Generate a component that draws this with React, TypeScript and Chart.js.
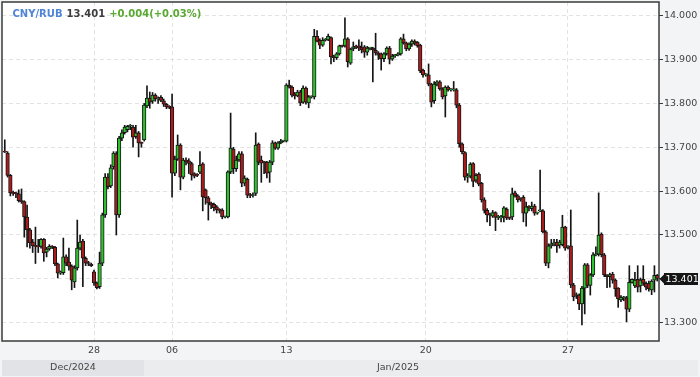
import { useEffect, useRef } from 'react';
import { Chart, registerables } from 'chart.js';

Chart.register(...registerables);

// ---- data (hourly candles, CNY/RUB) ----
const opens = [
  13.690, 13.687, 13.636, 13.597, 13.595, 13.594, 13.578, 13.576, 13.541, 13.512,
  13.484, 13.475, 13.474, 13.474, 13.490, 13.461, 13.468, 13.474, 13.472, 13.434,
  13.413, 13.414, 13.450, 13.438, 13.429, 13.393, 13.425, 13.470, 13.486, 13.447,
  13.436, 13.433, 13.416, 13.391, 13.382, 13.436, 13.546, 13.632, 13.612, 13.655,
  13.685, 13.546, 13.721, 13.733, 13.740, 13.748, 13.746, 13.724, 13.733, 13.710,
  13.717, 13.794, 13.812, 13.805, 13.819, 13.810, 13.814, 13.806, 13.798, 13.792,
  13.792, 13.641, 13.673, 13.705, 13.632, 13.671, 13.669, 13.663, 13.640, 13.637,
  13.643, 13.662, 13.603, 13.585, 13.573, 13.570, 13.564, 13.557, 13.557, 13.541,
  13.541, 13.644, 13.696, 13.651, 13.671, 13.685, 13.618, 13.627, 13.591, 13.590,
  13.595, 13.707, 13.671, 13.666, 13.666, 13.643, 13.666, 13.710, 13.698, 13.710,
  13.714, 13.714, 13.842, 13.837, 13.822, 13.817, 13.826, 13.803, 13.835, 13.801,
  13.815, 13.815, 13.953, 13.944, 13.933, 13.944, 13.945, 13.950, 13.908, 13.904,
  13.913, 13.931, 13.931, 13.947, 13.892, 13.924, 13.929, 13.931, 13.927, 13.929,
  13.917, 13.926, 13.926, 13.921, 13.915, 13.913, 13.902, 13.913, 13.926, 13.901,
  13.909, 13.910, 13.913, 13.947, 13.938, 13.924, 13.935, 13.942, 13.939, 13.933,
  13.876, 13.865, 13.865, 13.844, 13.806, 13.844, 13.849, 13.833, 13.817, 13.837,
  13.831, 13.831, 13.831, 13.796, 13.708, 13.688, 13.632, 13.634, 13.663, 13.625,
  13.639, 13.618, 13.580, 13.556, 13.546, 13.543, 13.551, 13.540, 13.539, 13.541,
  13.559, 13.539, 13.541, 13.596, 13.589, 13.581, 13.586, 13.550, 13.564, 13.560,
  13.566, 13.550, 13.555, 13.555, 13.507, 13.436, 13.475, 13.480, 13.484, 13.477,
  13.478, 13.518, 13.472, 13.475, 13.386, 13.362, 13.363, 13.343, 13.379, 13.432,
  13.385, 13.409, 13.455, 13.456, 13.502, 13.455, 13.409, 13.405, 13.411, 13.397,
  13.379, 13.352, 13.357, 13.357, 13.331, 13.392, 13.384, 13.399, 13.384, 13.399,
  13.390, 13.390, 13.375, 13.397, 13.408,
];
const highs = [
  13.717, 13.690, 13.638, 13.600, 13.598, 13.603, 13.605, 13.578, 13.568, 13.515,
  13.490, 13.518, 13.490, 13.492, 13.492, 13.472, 13.478, 13.476, 13.474, 13.436,
  13.418, 13.493, 13.455, 13.470, 13.432, 13.430, 13.534, 13.500, 13.490, 13.450,
  13.440, 13.436, 13.420, 13.393, 13.461, 13.550, 13.640, 13.640, 13.660, 13.690,
  13.690, 13.725, 13.740, 13.750, 13.750, 13.752, 13.750, 13.750, 13.736, 13.712,
  13.800, 13.840, 13.826, 13.825, 13.822, 13.815, 13.818, 13.810, 13.800, 13.795,
  13.821, 13.680, 13.728, 13.708, 13.675, 13.676, 13.674, 13.666, 13.642, 13.640,
  13.690, 13.665, 13.605, 13.588, 13.575, 13.573, 13.567, 13.560, 13.560, 13.543,
  13.646, 13.778, 13.700, 13.680, 13.690, 13.690, 13.635, 13.630, 13.595, 13.596,
  13.733, 13.710, 13.680, 13.668, 13.668, 13.670, 13.715, 13.712, 13.713, 13.718,
  13.716, 13.845, 13.853, 13.840, 13.825, 13.830, 13.830, 13.840, 13.838, 13.818,
  13.817, 13.969, 13.966, 13.947, 13.950, 13.948, 13.958, 13.952, 13.910, 13.916,
  13.933, 13.933, 13.995, 13.950, 13.926, 13.940, 13.933, 13.945, 13.940, 13.932,
  13.930, 13.928, 13.928, 13.960, 13.918, 13.915, 13.916, 13.929, 13.930, 13.912,
  13.912, 13.916, 13.950, 13.958, 13.940, 13.938, 13.945, 13.945, 13.941, 13.935,
  13.878, 13.868, 13.890, 13.846, 13.850, 13.852, 13.852, 13.836, 13.840, 13.840,
  13.834, 13.850, 13.834, 13.800, 13.710, 13.690, 13.640, 13.665, 13.665, 13.640,
  13.642, 13.620, 13.585, 13.560, 13.550, 13.556, 13.553, 13.545, 13.545, 13.565,
  13.562, 13.541, 13.607, 13.600, 13.592, 13.585, 13.590, 13.575, 13.567, 13.575,
  13.570, 13.552, 13.648, 13.558, 13.510, 13.480, 13.490, 13.490, 13.490, 13.488,
  13.545, 13.520, 13.476, 13.557, 13.390, 13.368, 13.366, 13.383, 13.435, 13.435,
  13.412, 13.460, 13.473, 13.596, 13.505, 13.458, 13.410, 13.413, 13.415, 13.400,
  13.380, 13.362, 13.360, 13.360, 13.430, 13.400, 13.415, 13.430, 13.402, 13.430,
  13.393, 13.395, 13.398, 13.430, 13.410,
];
const lows = [
  13.688, 13.632, 13.589, 13.590, 13.585, 13.575, 13.572, 13.495, 13.473, 13.470,
  13.460, 13.435, 13.460, 13.470, 13.440, 13.450, 13.465, 13.469, 13.430, 13.402,
  13.410, 13.410, 13.430, 13.420, 13.375, 13.380, 13.420, 13.466, 13.382, 13.430,
  13.430, 13.428, 13.385, 13.377, 13.378, 13.430, 13.540, 13.605, 13.608, 13.650,
  13.500, 13.540, 13.715, 13.730, 13.735, 13.740, 13.700, 13.720, 13.678, 13.700,
  13.714, 13.790, 13.789, 13.800, 13.805, 13.800, 13.804, 13.793, 13.788, 13.788,
  13.586, 13.635, 13.670, 13.603, 13.628, 13.660, 13.640, 13.625, 13.630, 13.633,
  13.640, 13.555, 13.570, 13.534, 13.560, 13.555, 13.550, 13.550, 13.537, 13.539,
  13.539, 13.640, 13.640, 13.645, 13.668, 13.610, 13.612, 13.585, 13.585, 13.586,
  13.590, 13.660, 13.620, 13.640, 13.630, 13.620, 13.660, 13.695, 13.695, 13.708,
  13.712, 13.712, 13.835, 13.815, 13.810, 13.815, 13.795, 13.800, 13.798, 13.790,
  13.812, 13.810, 13.940, 13.925, 13.930, 13.942, 13.943, 13.890, 13.895, 13.900,
  13.910, 13.928, 13.928, 13.883, 13.889, 13.920, 13.925, 13.920, 13.915, 13.905,
  13.910, 13.922, 13.849, 13.910, 13.900, 13.876, 13.895, 13.910, 13.890, 13.898,
  13.905, 13.908, 13.910, 13.935, 13.920, 13.921, 13.930, 13.933, 13.928, 13.870,
  13.860, 13.862, 13.840, 13.792, 13.800, 13.840, 13.830, 13.810, 13.769, 13.828,
  13.828, 13.828, 13.790, 13.700, 13.685, 13.625, 13.620, 13.630, 13.610, 13.620,
  13.612, 13.575, 13.550, 13.530, 13.521, 13.540, 13.510, 13.535, 13.530, 13.530,
  13.535, 13.535, 13.535, 13.586, 13.575, 13.577, 13.530, 13.520, 13.555, 13.555,
  13.545, 13.547, 13.553, 13.505, 13.430, 13.425, 13.470, 13.475, 13.460, 13.470,
  13.475, 13.465, 13.468, 13.380, 13.350, 13.355, 13.330, 13.295, 13.320, 13.380,
  13.363, 13.405, 13.452, 13.452, 13.450, 13.405, 13.380, 13.381, 13.390, 13.360,
  13.335, 13.348, 13.350, 13.302, 13.325, 13.390, 13.380, 13.370, 13.370, 13.385,
  13.375, 13.372, 13.364, 13.370, 13.395,
];
const closes = [
  13.689, 13.636, 13.596, 13.595, 13.594, 13.578, 13.576, 13.541, 13.512, 13.482,
  13.475, 13.474, 13.473, 13.490, 13.459, 13.468, 13.474, 13.472, 13.434, 13.413,
  13.414, 13.450, 13.436, 13.429, 13.397, 13.425, 13.470, 13.484, 13.447, 13.436,
  13.435, 13.430, 13.391, 13.380, 13.436, 13.546, 13.632, 13.610, 13.653, 13.687,
  13.546, 13.721, 13.733, 13.746, 13.748, 13.748, 13.723, 13.733, 13.710, 13.709,
  13.796, 13.812, 13.803, 13.819, 13.810, 13.810, 13.807, 13.798, 13.792, 13.791,
  13.641, 13.673, 13.705, 13.632, 13.671, 13.667, 13.663, 13.637, 13.634, 13.636,
  13.659, 13.587, 13.585, 13.573, 13.568, 13.562, 13.557, 13.556, 13.541, 13.541,
  13.644, 13.698, 13.651, 13.671, 13.685, 13.618, 13.630, 13.591, 13.590, 13.592,
  13.705, 13.666, 13.664, 13.665, 13.641, 13.666, 13.710, 13.698, 13.710, 13.714,
  13.714, 13.842, 13.837, 13.819, 13.817, 13.826, 13.801, 13.835, 13.803, 13.815,
  13.815, 13.953, 13.942, 13.933, 13.944, 13.945, 13.953, 13.906, 13.904, 13.913,
  13.931, 13.930, 13.947, 13.895, 13.924, 13.929, 13.928, 13.926, 13.922, 13.917,
  13.926, 13.926, 13.922, 13.915, 13.910, 13.902, 13.913, 13.926, 13.901, 13.908,
  13.910, 13.913, 13.947, 13.938, 13.924, 13.935, 13.942, 13.937, 13.931, 13.874,
  13.865, 13.865, 13.844, 13.803, 13.844, 13.849, 13.833, 13.815, 13.837, 13.831,
  13.831, 13.831, 13.796, 13.708, 13.690, 13.632, 13.633, 13.661, 13.622, 13.636,
  13.616, 13.580, 13.556, 13.546, 13.545, 13.551, 13.540, 13.541, 13.541, 13.562,
  13.539, 13.538, 13.594, 13.589, 13.580, 13.581, 13.550, 13.564, 13.563, 13.566,
  13.550, 13.550, 13.557, 13.507, 13.436, 13.475, 13.480, 13.480, 13.475, 13.484,
  13.518, 13.470, 13.473, 13.386, 13.359, 13.363, 13.343, 13.379, 13.432, 13.385,
  13.409, 13.455, 13.456, 13.500, 13.455, 13.409, 13.405, 13.410, 13.397, 13.377,
  13.354, 13.358, 13.357, 13.331, 13.392, 13.399, 13.397, 13.381, 13.397, 13.390,
  13.381, 13.377, 13.395, 13.408, 13.401,
];

// x-axis: candle index where each labelled day starts
const dayTickIndex = [32, 60, 101, 151, 202];
const dayTickLabels = ['28', '06', '13', '20', '27'];
const yTickValues = [13.3, 13.4, 13.5, 13.6, 13.7, 13.8, 13.9, 14.0];
const monthLabels = ['Dec/2024', 'Jan/2025'];
const symbol = 'CNY/RUB';
const lastPrice = 13.401;
const changeText = '+0.004(+0.03%)';

const FONT = '"DejaVu Sans", sans-serif';
const UP = '#2ec22e';
const DOWN = '#a81c1c';

const decor = {
  id: 'decor',
  beforeDraw(chart: any) {
    const { ctx, chartArea: a, width, height } = chart;
    ctx.save();
    ctx.fillStyle = '#f3f4f6';
    ctx.fillRect(0, 0, width, height);
    ctx.fillStyle = '#ffffff';
    ctx.fillRect(a.left, a.top, a.right - a.left, a.bottom - a.top);
    ctx.restore();
  },
  afterDraw(chart: any) {
    const { ctx, chartArea: a } = chart;
    ctx.save();
    // frame
    ctx.strokeStyle = '#3a3a3a';
    ctx.lineWidth = 1.5;
    ctx.strokeRect(a.left, a.top, a.right - a.left, a.bottom - a.top);

    // month band
    ctx.fillStyle = '#e2e3e6';
    ctx.fillRect(2, 360, 142, 16);
    ctx.fillStyle = '#ebecee';
    ctx.fillRect(144, 360, 554, 16);
    ctx.fillStyle = '#444';
    ctx.font = '9.5px ' + FONT;
    ctx.textAlign = 'center';
    ctx.textBaseline = 'middle';
    ctx.fillText(monthLabels[0], 73, 368);
    ctx.fillText(monthLabels[1], 398, 368);

    // title
    ctx.textAlign = 'left';
    ctx.textBaseline = 'alphabetic';
    ctx.font = 'bold 10px ' + FONT;
    let tx = 12.5;
    ctx.fillStyle = '#4f84d6';
    ctx.fillText(symbol, tx, 17.3);
    tx += ctx.measureText(symbol).width + 4;
    const priceText = lastPrice.toFixed(3);
    ctx.fillStyle = '#3d3d3d';
    ctx.fillText(priceText, tx, 17.3);
    tx += ctx.measureText(priceText).width + 4;
    ctx.fillStyle = '#59a832';
    ctx.fillText(changeText, tx, 17.3);

    // last price marker
    const py = Math.round(chart.scales.y.getPixelForValue(lastPrice)) + 1;
    ctx.fillStyle = '#161616';
    ctx.beginPath();
    ctx.moveTo(659.5, py);
    ctx.lineTo(664, py - 4.5);
    ctx.lineTo(664, py - 6);
    ctx.lineTo(698, py - 6);
    ctx.lineTo(698, py + 6);
    ctx.lineTo(664, py + 6);
    ctx.lineTo(664, py + 4.5);
    ctx.closePath();
    ctx.fill();
    ctx.fillStyle = '#ffffff';
    ctx.font = '9.5px ' + FONT;
    ctx.textBaseline = 'middle';
    ctx.fillText(priceText, 665.5, py + 0.5);
    ctx.restore();
  },
};

export default function App() {
  const ref = useRef<HTMLCanvasElement | null>(null);

  useEffect(() => {
    if (!ref.current) return;
    const bodies = opens.map((o, i) => ({ x: i, y: [o, closes[i]] }));
    const wicks = lows.map((l, i) => ({ x: i, y: [l, highs[i]] }));

    const chart = new Chart(ref.current, {
      type: 'bar',
      data: {
        datasets: [
          {
            data: bodies as any,
            grouped: false,
            barThickness: 3.6,
            borderWidth: 1,
            borderColor: '#151515',
            borderSkipped: false,
            minBarLength: 1,
            backgroundColor: (c: any) => {
              const i = c.dataIndex;
              return closes[i] >= opens[i] ? UP : DOWN;
            },
          } as any,
          {
            data: wicks as any,
            grouped: false,
            barThickness: 1,
            borderWidth: 0,
            backgroundColor: '#151515',
          } as any,
        ],
      },
      options: {
        animation: false,
        responsive: false,
        devicePixelRatio: 1,
        events: [],
        layout: { padding: { left: 2, top: 2, right: 0, bottom: 0 } },
        plugins: { legend: { display: false }, tooltip: { enabled: false } },
        scales: {
          x: {
            type: 'linear',
            min: -1.0,
            max: 234.64,
            offset: false,
            grid: {
              offset: false,
              color: '#e3e3e3',
              drawTicks: false,
            },
            border: { display: false, dash: [4, 3] },
            afterBuildTicks: (s: any) => {
              s.ticks = dayTickIndex.map((v) => ({ value: v }));
            },
            afterFit: (s: any) => {
              s.height = 36;
              s.paddingLeft = 0;
              s.paddingRight = 0;
            },
            ticks: {
              autoSkip: false,
              maxRotation: 0,
              padding: 4,
              color: '#444',
              font: { family: FONT, size: 9.5 },
              callback: (v: any) => {
                const k = dayTickIndex.indexOf(Number(v));
                return k >= 0 ? dayTickLabels[k] : '';
              },
            },
          },
          y: {
            type: 'linear',
            position: 'right',
            min: 13.2583,
            max: 14.0312,
            grid: {
              color: '#e3e3e3',
              drawTicks: true,
              tickLength: 4,
              tickColor: '#3a3a3a',
              tickWidth: 1,
            },
            border: { display: false, dash: [4, 3] },
            afterBuildTicks: (s: any) => {
              s.ticks = yTickValues.map((v) => ({ value: v }));
            },
            afterFit: (s: any) => {
              s.width = 41;
              s.paddingTop = 0;
              s.paddingBottom = 0;
            },
            ticks: {
              padding: 1,
              color: '#444',
              font: { family: FONT, size: 9.5 },
              callback: (v: any) => Number(v).toFixed(3),
            },
          },
        },
      },
      plugins: [decor],
    } as any);

    return () => chart.destroy();
  }, []);

  return (
    <div style={{ position: 'absolute', left: 0, top: 0, width: 700, height: 377 }}>
      <canvas ref={ref} width={700} height={377} style={{ display: 'block' }} />
    </div>
  );
}
